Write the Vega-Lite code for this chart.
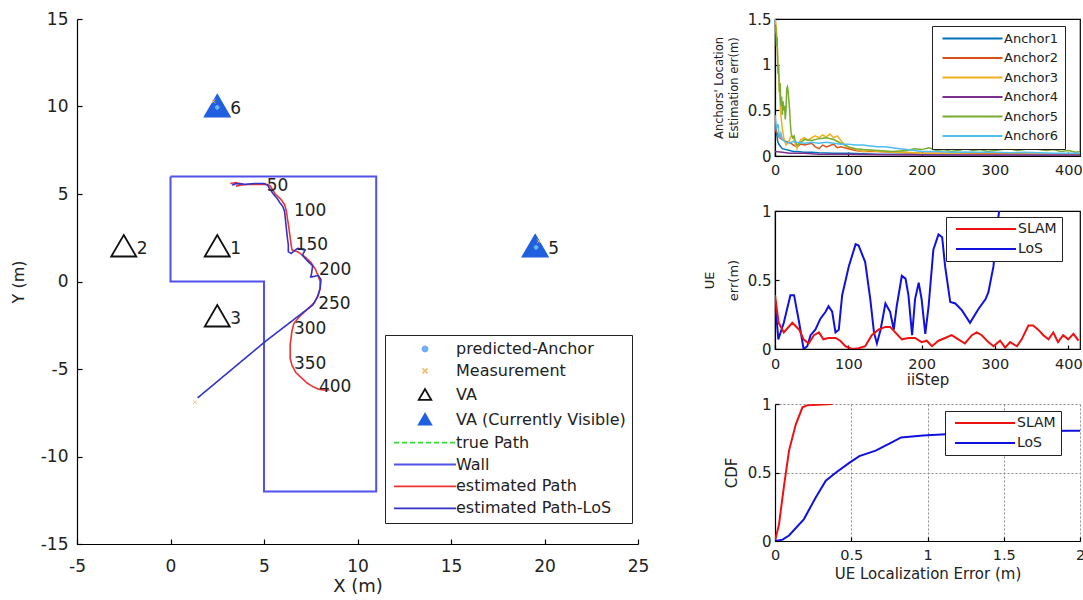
{
  "$schema": "https://vega.github.io/schema/vega-lite/v6.json",
  "background": "white",
  "padding": {"left": 10, "top": 10, "right": 0, "bottom": 0},
  "config": {
    "font": "DejaVu Sans",
    "view": {"stroke": null},
    "axis": {"domainColor": "#000", "tickColor": "#000", "labelColor": "#222", "titleColor": "#222", "grid": false, "titleFontWeight": "normal", "labelFlush": false, "labelOverlap": false, "domainWidth": 1.2, "tickWidth": 1.2},
    "legend": {"strokeColor": "#222", "fillColor": "white", "labelColor": "#222", "symbolStrokeWidth": 1.8, "symbolSize": 100, "orient": "none", "labelLimit": 400}
  },
  "datasets": {
    "wall": [
      {"x": 0, "y": 6, "o": 0, "series": "Wall"}, {"x": 11, "y": 6, "o": 1, "series": "Wall"}, {"x": 11, "y": -12, "o": 2, "series": "Wall"},
      {"x": 5, "y": -12, "o": 3, "series": "Wall"}, {"x": 5, "y": 0, "o": 4, "series": "Wall"}, {"x": 0, "y": 0, "o": 5, "series": "Wall"}, {"x": 0, "y": 6, "o": 6, "series": "Wall"}
    ],
    "estPath": [
      {"o": 0, "x": 3.2, "y": 5.6, "series": "estimated Path"}, {"o": 1, "x": 3.5, "y": 5.65, "series": "estimated Path"}, {"o": 2, "x": 3.9, "y": 5.55, "series": "estimated Path"}, {"o": 3, "x": 3.5, "y": 5.45, "series": "estimated Path"}, {"o": 4, "x": 3.6, "y": 5.5, "series": "estimated Path"},
      {"o": 5, "x": 4.2, "y": 5.55, "series": "estimated Path"}, {"o": 6, "x": 4.7, "y": 5.55, "series": "estimated Path"}, {"o": 7, "x": 5.1, "y": 5.55, "series": "estimated Path"}, {"o": 8, "x": 5.3, "y": 5.5, "series": "estimated Path"}, {"o": 9, "x": 5.4, "y": 5.35, "series": "estimated Path"},
      {"o": 10, "x": 5.6, "y": 5.0, "series": "estimated Path"}, {"o": 11, "x": 5.9, "y": 4.7, "series": "estimated Path"}, {"o": 12, "x": 6.1, "y": 4.4, "series": "estimated Path"}, {"o": 13, "x": 6.2, "y": 4.0, "series": "estimated Path"}, {"o": 14, "x": 6.25, "y": 3.6, "series": "estimated Path"},
      {"o": 15, "x": 6.3, "y": 3.3, "series": "estimated Path"}, {"o": 16, "x": 6.35, "y": 2.9, "series": "estimated Path"}, {"o": 17, "x": 6.4, "y": 2.5, "series": "estimated Path"}, {"o": 18, "x": 6.45, "y": 2.1, "series": "estimated Path"}, {"o": 19, "x": 6.5, "y": 1.8, "series": "estimated Path"},
      {"o": 20, "x": 6.8, "y": 1.7, "series": "estimated Path"}, {"o": 21, "x": 7.2, "y": 1.4, "series": "estimated Path"}, {"o": 22, "x": 7.5, "y": 1.1, "series": "estimated Path"}, {"o": 23, "x": 7.75, "y": 0.7, "series": "estimated Path"}, {"o": 24, "x": 7.9, "y": 0.3, "series": "estimated Path"},
      {"o": 25, "x": 8.0, "y": 0.0, "series": "estimated Path"}, {"o": 26, "x": 8.0, "y": -0.4, "series": "estimated Path"}, {"o": 27, "x": 7.9, "y": -0.8, "series": "estimated Path"}, {"o": 28, "x": 7.7, "y": -1.2, "series": "estimated Path"}, {"o": 29, "x": 7.3, "y": -1.6, "series": "estimated Path"},
      {"o": 30, "x": 6.9, "y": -2.0, "series": "estimated Path"}, {"o": 31, "x": 6.6, "y": -2.4, "series": "estimated Path"}, {"o": 32, "x": 6.5, "y": -2.8, "series": "estimated Path"}, {"o": 33, "x": 6.45, "y": -3.2, "series": "estimated Path"}, {"o": 34, "x": 6.4, "y": -3.6, "series": "estimated Path"},
      {"o": 35, "x": 6.4, "y": -4.0, "series": "estimated Path"}, {"o": 36, "x": 6.4, "y": -4.4, "series": "estimated Path"}, {"o": 37, "x": 6.5, "y": -4.8, "series": "estimated Path"}, {"o": 38, "x": 6.7, "y": -5.2, "series": "estimated Path"}, {"o": 39, "x": 7.0, "y": -5.5, "series": "estimated Path"},
      {"o": 40, "x": 7.3, "y": -5.8, "series": "estimated Path"}, {"o": 41, "x": 7.6, "y": -6.0, "series": "estimated Path"}, {"o": 42, "x": 7.9, "y": -6.15, "series": "estimated Path"}, {"o": 43, "x": 8.2, "y": -6.2, "series": "estimated Path"}, {"o": 44, "x": 8.5, "y": -6.2, "series": "estimated Path"}
    ],
    "losPath": [
      {"o": 0, "x": 3.3, "y": 5.5, "series": "estimated Path-LoS"}, {"o": 1, "x": 3.5, "y": 5.6, "series": "estimated Path-LoS"}, {"o": 2, "x": 4.0, "y": 5.55, "series": "estimated Path-LoS"}, {"o": 3, "x": 4.5, "y": 5.6, "series": "estimated Path-LoS"}, {"o": 4, "x": 5.0, "y": 5.6, "series": "estimated Path-LoS"},
      {"o": 5, "x": 5.2, "y": 5.5, "series": "estimated Path-LoS"}, {"o": 6, "x": 5.3, "y": 5.3, "series": "estimated Path-LoS"}, {"o": 7, "x": 5.5, "y": 5.0, "series": "estimated Path-LoS"}, {"o": 8, "x": 5.7, "y": 4.75, "series": "estimated Path-LoS"}, {"o": 9, "x": 5.85, "y": 4.5, "series": "estimated Path-LoS"},
      {"o": 10, "x": 6.0, "y": 4.3, "series": "estimated Path-LoS"}, {"o": 11, "x": 6.1, "y": 4.0, "series": "estimated Path-LoS"}, {"o": 12, "x": 6.15, "y": 3.5, "series": "estimated Path-LoS"}, {"o": 13, "x": 6.2, "y": 3.0, "series": "estimated Path-LoS"}, {"o": 14, "x": 6.25, "y": 2.5, "series": "estimated Path-LoS"},
      {"o": 15, "x": 6.3, "y": 2.1, "series": "estimated Path-LoS"}, {"o": 16, "x": 6.3, "y": 1.7, "series": "estimated Path-LoS"}, {"o": 17, "x": 6.45, "y": 1.6, "series": "estimated Path-LoS"}, {"o": 18, "x": 6.8, "y": 1.9, "series": "estimated Path-LoS"}, {"o": 19, "x": 7.2, "y": 1.8, "series": "estimated Path-LoS"},
      {"o": 20, "x": 7.05, "y": 1.5, "series": "estimated Path-LoS"}, {"o": 21, "x": 7.3, "y": 1.2, "series": "estimated Path-LoS"}, {"o": 22, "x": 7.6, "y": 0.9, "series": "estimated Path-LoS"}, {"o": 23, "x": 7.55, "y": 0.5, "series": "estimated Path-LoS"}, {"o": 24, "x": 7.5, "y": 0.25, "series": "estimated Path-LoS"},
      {"o": 25, "x": 7.9, "y": 0.35, "series": "estimated Path-LoS"}, {"o": 26, "x": 8.05, "y": 0.1, "series": "estimated Path-LoS"}, {"o": 27, "x": 8.0, "y": -0.4, "series": "estimated Path-LoS"}, {"o": 28, "x": 7.85, "y": -0.9, "series": "estimated Path-LoS"}, {"o": 29, "x": 7.6, "y": -1.35, "series": "estimated Path-LoS"},
      {"o": 30, "x": 5.1, "y": -3.4, "series": "estimated Path-LoS"}, {"o": 31, "x": 1.45, "y": -6.65, "series": "estimated Path-LoS"}
    ],
    "va": [
      {"x": 2.5, "y": 2, "id": "1", "series": "VA"},
      {"x": -2.5, "y": 2, "id": "2", "series": "VA"},
      {"x": 2.5, "y": -2, "id": "3", "series": "VA"},
      {"x": 19.5, "y": 2, "id": "5", "series": "VA (Currently Visible)"},
      {"x": 2.5, "y": 10, "id": "6", "series": "VA (Currently Visible)"}
    ],
    "pts": [
      {"x": 2.5, "y": 9.95, "series": "predicted-Anchor"},
      {"x": 19.55, "y": 1.95, "series": "predicted-Anchor"},
      {"x": 19.7, "y": 2.3, "series": "Measurement"},
      {"x": 2.3, "y": 10.3, "series": "Measurement"},
      {"x": 1.3, "y": -6.9, "series": "Measurement"}
    ],
    "steps": [
      {"x": 5.15, "y": 5.46, "t": "50"}, {"x": 6.6, "y": 4.04, "t": "100"}, {"x": 6.69, "y": 2.1, "t": "150"}, {"x": 7.94, "y": 0.68, "t": "200"},
      {"x": 7.9, "y": -1.3, "t": "250"}, {"x": 6.6, "y": -2.7, "t": "300"}, {"x": 6.6, "y": -4.7, "t": "350"}, {"x": 7.94, "y": -6.05, "t": "400"}
    ],
    "anchors": [
      {"a": "Anchor1", "s": 0, "e": 0.35}, {"a": "Anchor1", "s": 2, "e": 0.25}, {"a": "Anchor1", "s": 4, "e": 0.15}, {"a": "Anchor1", "s": 6, "e": 0.12}, {"a": "Anchor1", "s": 8, "e": 0.1},
      {"a": "Anchor1", "s": 10, "e": 0.08}, {"a": "Anchor1", "s": 15, "e": 0.07}, {"a": "Anchor1", "s": 20, "e": 0.06}, {"a": "Anchor1", "s": 25, "e": 0.05}, {"a": "Anchor1", "s": 30, "e": 0.05},
      {"a": "Anchor1", "s": 40, "e": 0.04}, {"a": "Anchor1", "s": 50, "e": 0.04}, {"a": "Anchor1", "s": 60, "e": 0.035}, {"a": "Anchor1", "s": 80, "e": 0.03}, {"a": "Anchor1", "s": 100, "e": 0.03},
      {"a": "Anchor1", "s": 120, "e": 0.025}, {"a": "Anchor1", "s": 140, "e": 0.02}, {"a": "Anchor1", "s": 160, "e": 0.02}, {"a": "Anchor1", "s": 200, "e": 0.02}, {"a": "Anchor1", "s": 240, "e": 0.015},
      {"a": "Anchor1", "s": 280, "e": 0.015}, {"a": "Anchor1", "s": 320, "e": 0.015}, {"a": "Anchor1", "s": 360, "e": 0.012}, {"a": "Anchor1", "s": 400, "e": 0.012}, {"a": "Anchor1", "s": 416, "e": 0.01},

      {"a": "Anchor2", "s": 0, "e": 0.3}, {"a": "Anchor2", "s": 3, "e": 0.25}, {"a": "Anchor2", "s": 6, "e": 0.2}, {"a": "Anchor2", "s": 10, "e": 0.18}, {"a": "Anchor2", "s": 15, "e": 0.16},
      {"a": "Anchor2", "s": 20, "e": 0.15}, {"a": "Anchor2", "s": 25, "e": 0.12}, {"a": "Anchor2", "s": 30, "e": 0.1}, {"a": "Anchor2", "s": 35, "e": 0.13}, {"a": "Anchor2", "s": 40, "e": 0.12},
      {"a": "Anchor2", "s": 50, "e": 0.14}, {"a": "Anchor2", "s": 55, "e": 0.1}, {"a": "Anchor2", "s": 60, "e": 0.08}, {"a": "Anchor2", "s": 65, "e": 0.12}, {"a": "Anchor2", "s": 70, "e": 0.1},
      {"a": "Anchor2", "s": 80, "e": 0.13}, {"a": "Anchor2", "s": 85, "e": 0.09}, {"a": "Anchor2", "s": 90, "e": 0.1}, {"a": "Anchor2", "s": 100, "e": 0.08}, {"a": "Anchor2", "s": 110, "e": 0.06},
      {"a": "Anchor2", "s": 120, "e": 0.05}, {"a": "Anchor2", "s": 140, "e": 0.05}, {"a": "Anchor2", "s": 160, "e": 0.04}, {"a": "Anchor2", "s": 180, "e": 0.035}, {"a": "Anchor2", "s": 200, "e": 0.03},
      {"a": "Anchor2", "s": 240, "e": 0.03}, {"a": "Anchor2", "s": 280, "e": 0.025}, {"a": "Anchor2", "s": 320, "e": 0.025}, {"a": "Anchor2", "s": 360, "e": 0.02}, {"a": "Anchor2", "s": 400, "e": 0.02}, {"a": "Anchor2", "s": 416, "e": 0.02},

      {"a": "Anchor3", "s": 0, "e": 1.5}, {"a": "Anchor3", "s": 2, "e": 1.4}, {"a": "Anchor3", "s": 4, "e": 1.0}, {"a": "Anchor3", "s": 6, "e": 0.7}, {"a": "Anchor3", "s": 8, "e": 0.45},
      {"a": "Anchor3", "s": 10, "e": 0.3}, {"a": "Anchor3", "s": 12, "e": 0.2}, {"a": "Anchor3", "s": 15, "e": 0.12}, {"a": "Anchor3", "s": 18, "e": 0.15}, {"a": "Anchor3", "s": 20, "e": 0.18},
      {"a": "Anchor3", "s": 22, "e": 0.22}, {"a": "Anchor3", "s": 25, "e": 0.2}, {"a": "Anchor3", "s": 30, "e": 0.08}, {"a": "Anchor3", "s": 35, "e": 0.18}, {"a": "Anchor3", "s": 40, "e": 0.2},
      {"a": "Anchor3", "s": 45, "e": 0.17}, {"a": "Anchor3", "s": 50, "e": 0.2}, {"a": "Anchor3", "s": 55, "e": 0.22}, {"a": "Anchor3", "s": 60, "e": 0.2}, {"a": "Anchor3", "s": 65, "e": 0.23},
      {"a": "Anchor3", "s": 70, "e": 0.21}, {"a": "Anchor3", "s": 75, "e": 0.24}, {"a": "Anchor3", "s": 80, "e": 0.2}, {"a": "Anchor3", "s": 85, "e": 0.22}, {"a": "Anchor3", "s": 90, "e": 0.17},
      {"a": "Anchor3", "s": 95, "e": 0.12}, {"a": "Anchor3", "s": 100, "e": 0.1}, {"a": "Anchor3", "s": 110, "e": 0.07}, {"a": "Anchor3", "s": 120, "e": 0.05}, {"a": "Anchor3", "s": 130, "e": 0.06},
      {"a": "Anchor3", "s": 140, "e": 0.05}, {"a": "Anchor3", "s": 150, "e": 0.05}, {"a": "Anchor3", "s": 160, "e": 0.04}, {"a": "Anchor3", "s": 170, "e": 0.045}, {"a": "Anchor3", "s": 180, "e": 0.04},
      {"a": "Anchor3", "s": 200, "e": 0.03}, {"a": "Anchor3", "s": 240, "e": 0.025}, {"a": "Anchor3", "s": 280, "e": 0.02}, {"a": "Anchor3", "s": 320, "e": 0.02}, {"a": "Anchor3", "s": 360, "e": 0.02},
      {"a": "Anchor3", "s": 400, "e": 0.015}, {"a": "Anchor3", "s": 416, "e": 0.015},

      {"a": "Anchor4", "s": 0, "e": 0.05}, {"a": "Anchor4", "s": 10, "e": 0.04}, {"a": "Anchor4", "s": 20, "e": 0.03}, {"a": "Anchor4", "s": 40, "e": 0.03}, {"a": "Anchor4", "s": 60, "e": 0.02},
      {"a": "Anchor4", "s": 80, "e": 0.02}, {"a": "Anchor4", "s": 100, "e": 0.02}, {"a": "Anchor4", "s": 150, "e": 0.015}, {"a": "Anchor4", "s": 200, "e": 0.01}, {"a": "Anchor4", "s": 250, "e": 0.01},
      {"a": "Anchor4", "s": 300, "e": 0.01}, {"a": "Anchor4", "s": 350, "e": 0.01}, {"a": "Anchor4", "s": 416, "e": 0.01},

      {"a": "Anchor5", "s": 0, "e": 1.35}, {"a": "Anchor5", "s": 1, "e": 1.42}, {"a": "Anchor5", "s": 2, "e": 1.2}, {"a": "Anchor5", "s": 3, "e": 1.3}, {"a": "Anchor5", "s": 4, "e": 0.9},
      {"a": "Anchor5", "s": 5, "e": 1.0}, {"a": "Anchor5", "s": 6, "e": 0.7}, {"a": "Anchor5", "s": 7, "e": 0.8}, {"a": "Anchor5", "s": 8, "e": 0.55}, {"a": "Anchor5", "s": 9, "e": 0.65},
      {"a": "Anchor5", "s": 10, "e": 0.45}, {"a": "Anchor5", "s": 11, "e": 0.6}, {"a": "Anchor5", "s": 12, "e": 0.5}, {"a": "Anchor5", "s": 13, "e": 0.55}, {"a": "Anchor5", "s": 14, "e": 0.4},
      {"a": "Anchor5", "s": 15, "e": 0.5}, {"a": "Anchor5", "s": 16, "e": 0.74}, {"a": "Anchor5", "s": 17, "e": 0.76}, {"a": "Anchor5", "s": 18, "e": 0.7}, {"a": "Anchor5", "s": 19, "e": 0.6},
      {"a": "Anchor5", "s": 20, "e": 0.5}, {"a": "Anchor5", "s": 21, "e": 0.35}, {"a": "Anchor5", "s": 22, "e": 0.25}, {"a": "Anchor5", "s": 24, "e": 0.2}, {"a": "Anchor5", "s": 26, "e": 0.22},
      {"a": "Anchor5", "s": 28, "e": 0.15}, {"a": "Anchor5", "s": 30, "e": 0.12}, {"a": "Anchor5", "s": 35, "e": 0.15}, {"a": "Anchor5", "s": 40, "e": 0.18}, {"a": "Anchor5", "s": 50, "e": 0.17},
      {"a": "Anchor5", "s": 60, "e": 0.19}, {"a": "Anchor5", "s": 70, "e": 0.2}, {"a": "Anchor5", "s": 80, "e": 0.18}, {"a": "Anchor5", "s": 90, "e": 0.14}, {"a": "Anchor5", "s": 100, "e": 0.1},
      {"a": "Anchor5", "s": 110, "e": 0.08}, {"a": "Anchor5", "s": 120, "e": 0.07}, {"a": "Anchor5", "s": 140, "e": 0.06}, {"a": "Anchor5", "s": 160, "e": 0.05}, {"a": "Anchor5", "s": 180, "e": 0.06},
      {"a": "Anchor5", "s": 190, "e": 0.08}, {"a": "Anchor5", "s": 200, "e": 0.07}, {"a": "Anchor5", "s": 210, "e": 0.09}, {"a": "Anchor5", "s": 220, "e": 0.06}, {"a": "Anchor5", "s": 230, "e": 0.07},
      {"a": "Anchor5", "s": 240, "e": 0.05}, {"a": "Anchor5", "s": 250, "e": 0.06}, {"a": "Anchor5", "s": 260, "e": 0.08}, {"a": "Anchor5", "s": 270, "e": 0.06}, {"a": "Anchor5", "s": 280, "e": 0.07},
      {"a": "Anchor5", "s": 290, "e": 0.05}, {"a": "Anchor5", "s": 300, "e": 0.06}, {"a": "Anchor5", "s": 310, "e": 0.07}, {"a": "Anchor5", "s": 320, "e": 0.08}, {"a": "Anchor5", "s": 330, "e": 0.06},
      {"a": "Anchor5", "s": 340, "e": 0.07}, {"a": "Anchor5", "s": 350, "e": 0.08}, {"a": "Anchor5", "s": 360, "e": 0.07}, {"a": "Anchor5", "s": 370, "e": 0.06}, {"a": "Anchor5", "s": 380, "e": 0.07},
      {"a": "Anchor5", "s": 390, "e": 0.05}, {"a": "Anchor5", "s": 400, "e": 0.06}, {"a": "Anchor5", "s": 410, "e": 0.04}, {"a": "Anchor5", "s": 416, "e": 0.05},

      {"a": "Anchor6", "s": 0, "e": 0.45}, {"a": "Anchor6", "s": 2, "e": 0.3}, {"a": "Anchor6", "s": 4, "e": 0.35}, {"a": "Anchor6", "s": 6, "e": 0.2}, {"a": "Anchor6", "s": 8, "e": 0.25},
      {"a": "Anchor6", "s": 10, "e": 0.18}, {"a": "Anchor6", "s": 15, "e": 0.15}, {"a": "Anchor6", "s": 20, "e": 0.14}, {"a": "Anchor6", "s": 25, "e": 0.16}, {"a": "Anchor6", "s": 30, "e": 0.15},
      {"a": "Anchor6", "s": 40, "e": 0.14}, {"a": "Anchor6", "s": 50, "e": 0.15}, {"a": "Anchor6", "s": 60, "e": 0.14}, {"a": "Anchor6", "s": 70, "e": 0.15}, {"a": "Anchor6", "s": 80, "e": 0.14},
      {"a": "Anchor6", "s": 90, "e": 0.13}, {"a": "Anchor6", "s": 100, "e": 0.13}, {"a": "Anchor6", "s": 110, "e": 0.12}, {"a": "Anchor6", "s": 120, "e": 0.12}, {"a": "Anchor6", "s": 130, "e": 0.11},
      {"a": "Anchor6", "s": 140, "e": 0.1}, {"a": "Anchor6", "s": 150, "e": 0.1}, {"a": "Anchor6", "s": 160, "e": 0.09}, {"a": "Anchor6", "s": 170, "e": 0.08}, {"a": "Anchor6", "s": 180, "e": 0.07},
      {"a": "Anchor6", "s": 190, "e": 0.06}, {"a": "Anchor6", "s": 200, "e": 0.05}, {"a": "Anchor6", "s": 220, "e": 0.05}, {"a": "Anchor6", "s": 240, "e": 0.04}, {"a": "Anchor6", "s": 260, "e": 0.045},
      {"a": "Anchor6", "s": 280, "e": 0.04}, {"a": "Anchor6", "s": 300, "e": 0.04}, {"a": "Anchor6", "s": 320, "e": 0.035}, {"a": "Anchor6", "s": 340, "e": 0.04}, {"a": "Anchor6", "s": 360, "e": 0.035},
      {"a": "Anchor6", "s": 380, "e": 0.03}, {"a": "Anchor6", "s": 400, "e": 0.03}, {"a": "Anchor6", "s": 416, "e": 0.03}
    ],
    "ue": [
      {"m": "LoS", "s": 0, "e": 0.36}, {"m": "LoS", "s": 4.5, "e": 0.07}, {"m": "LoS", "s": 12, "e": 0.19}, {"m": "LoS", "s": 21, "e": 0.39}, {"m": "LoS", "s": 26, "e": 0.39},
      {"m": "LoS", "s": 33, "e": 0.19}, {"m": "LoS", "s": 39, "e": 0.0}, {"m": "LoS", "s": 44, "e": 0.02}, {"m": "LoS", "s": 48.5, "e": 0.1}, {"m": "LoS", "s": 55, "e": 0.14},
      {"m": "LoS", "s": 62, "e": 0.22}, {"m": "LoS", "s": 69, "e": 0.27}, {"m": "LoS", "s": 73, "e": 0.31}, {"m": "LoS", "s": 78, "e": 0.27}, {"m": "LoS", "s": 82.5, "e": 0.12},
      {"m": "LoS", "s": 87, "e": 0.14}, {"m": "LoS", "s": 91.6, "e": 0.39}, {"m": "LoS", "s": 100.7, "e": 0.6}, {"m": "LoS", "s": 110, "e": 0.76}, {"m": "LoS", "s": 114, "e": 0.75},
      {"m": "LoS", "s": 123, "e": 0.63}, {"m": "LoS", "s": 130, "e": 0.36}, {"m": "LoS", "s": 135, "e": 0.12}, {"m": "LoS", "s": 139, "e": 0.04}, {"m": "LoS", "s": 144, "e": 0.14},
      {"m": "LoS", "s": 150.6, "e": 0.33}, {"m": "LoS", "s": 157, "e": 0.27}, {"m": "LoS", "s": 162, "e": 0.14}, {"m": "LoS", "s": 166, "e": 0.31}, {"m": "LoS", "s": 173, "e": 0.53},
      {"m": "LoS", "s": 178, "e": 0.51}, {"m": "LoS", "s": 182, "e": 0.39}, {"m": "LoS", "s": 187, "e": 0.1}, {"m": "LoS", "s": 191, "e": 0.36}, {"m": "LoS", "s": 196, "e": 0.48},
      {"m": "LoS", "s": 200, "e": 0.36}, {"m": "LoS", "s": 205, "e": 0.11}, {"m": "LoS", "s": 209.5, "e": 0.31}, {"m": "LoS", "s": 216, "e": 0.72}, {"m": "LoS", "s": 223, "e": 0.83},
      {"m": "LoS", "s": 228, "e": 0.81}, {"m": "LoS", "s": 232, "e": 0.6}, {"m": "LoS", "s": 239, "e": 0.34}, {"m": "LoS", "s": 246, "e": 0.33}, {"m": "LoS", "s": 255, "e": 0.28},
      {"m": "LoS", "s": 266, "e": 0.19}, {"m": "LoS", "s": 277.5, "e": 0.29}, {"m": "LoS", "s": 287, "e": 0.36}, {"m": "LoS", "s": 291, "e": 0.41}, {"m": "LoS", "s": 298, "e": 0.6},
      {"m": "LoS", "s": 302.5, "e": 0.87}, {"m": "LoS", "s": 307, "e": 1.05}, {"m": "LoS", "s": 312, "e": 1.4}, {"m": "LoS", "s": 320, "e": 1.9}, {"m": "LoS", "s": 330, "e": 2.3},
      {"m": "LoS", "s": 345, "e": 2.8}, {"m": "LoS", "s": 360, "e": 3.2}, {"m": "LoS", "s": 380, "e": 3.5}, {"m": "LoS", "s": 400, "e": 3.8}, {"m": "LoS", "s": 416, "e": 4.0},

      {"m": "SLAM", "s": 0, "e": 0.39}, {"m": "SLAM", "s": 5, "e": 0.19}, {"m": "SLAM", "s": 12, "e": 0.12}, {"m": "SLAM", "s": 23.6, "e": 0.19}, {"m": "SLAM", "s": 33, "e": 0.14},
      {"m": "SLAM", "s": 39, "e": 0.07}, {"m": "SLAM", "s": 46, "e": 0.04}, {"m": "SLAM", "s": 53, "e": 0.1}, {"m": "SLAM", "s": 60, "e": 0.12}, {"m": "SLAM", "s": 66, "e": 0.07},
      {"m": "SLAM", "s": 73, "e": 0.08}, {"m": "SLAM", "s": 82.5, "e": 0.08}, {"m": "SLAM", "s": 89, "e": 0.06}, {"m": "SLAM", "s": 96, "e": 0.02}, {"m": "SLAM", "s": 105, "e": 0.0},
      {"m": "SLAM", "s": 114, "e": 0.005}, {"m": "SLAM", "s": 123, "e": 0.02}, {"m": "SLAM", "s": 132, "e": 0.1}, {"m": "SLAM", "s": 141, "e": 0.14}, {"m": "SLAM", "s": 150.6, "e": 0.16},
      {"m": "SLAM", "s": 157, "e": 0.16}, {"m": "SLAM", "s": 164, "e": 0.12}, {"m": "SLAM", "s": 173, "e": 0.07}, {"m": "SLAM", "s": 182, "e": 0.08}, {"m": "SLAM", "s": 191, "e": 0.08},
      {"m": "SLAM", "s": 200, "e": 0.05}, {"m": "SLAM", "s": 207, "e": 0.06}, {"m": "SLAM", "s": 214, "e": 0.02}, {"m": "SLAM", "s": 223, "e": 0.06}, {"m": "SLAM", "s": 232, "e": 0.08},
      {"m": "SLAM", "s": 241, "e": 0.1}, {"m": "SLAM", "s": 250, "e": 0.07}, {"m": "SLAM", "s": 259, "e": 0.04}, {"m": "SLAM", "s": 268.5, "e": 0.1}, {"m": "SLAM", "s": 275, "e": 0.12},
      {"m": "SLAM", "s": 282, "e": 0.1}, {"m": "SLAM", "s": 291, "e": 0.05}, {"m": "SLAM", "s": 298, "e": 0.02}, {"m": "SLAM", "s": 307, "e": 0.06}, {"m": "SLAM", "s": 314, "e": 0.01},
      {"m": "SLAM", "s": 320.6, "e": 0.05}, {"m": "SLAM", "s": 330, "e": 0.02}, {"m": "SLAM", "s": 336.5, "e": 0.07}, {"m": "SLAM", "s": 345.6, "e": 0.17}, {"m": "SLAM", "s": 352, "e": 0.17},
      {"m": "SLAM", "s": 359, "e": 0.14}, {"m": "SLAM", "s": 366, "e": 0.1}, {"m": "SLAM", "s": 373, "e": 0.07}, {"m": "SLAM", "s": 379.6, "e": 0.12}, {"m": "SLAM", "s": 386, "e": 0.05},
      {"m": "SLAM", "s": 393, "e": 0.1}, {"m": "SLAM", "s": 400, "e": 0.07}, {"m": "SLAM", "s": 407, "e": 0.11}, {"m": "SLAM", "s": 414, "e": 0.06}
    ],
    "cdf": [
      {"m": "SLAM", "v": 0, "p": 0}, {"m": "SLAM", "v": 0.026, "p": 0.12}, {"m": "SLAM", "v": 0.06, "p": 0.41}, {"m": "SLAM", "v": 0.092, "p": 0.66},
      {"m": "SLAM", "v": 0.136, "p": 0.85}, {"m": "SLAM", "v": 0.18, "p": 0.976}, {"m": "SLAM", "v": 0.21, "p": 0.99}, {"m": "SLAM", "v": 0.377, "p": 1.0},
      {"m": "LoS", "v": 0, "p": 0}, {"m": "LoS", "v": 0.05, "p": 0.01}, {"m": "LoS", "v": 0.092, "p": 0.04}, {"m": "LoS", "v": 0.19, "p": 0.16},
      {"m": "LoS", "v": 0.268, "p": 0.32}, {"m": "LoS", "v": 0.333, "p": 0.44}, {"m": "LoS", "v": 0.4, "p": 0.5}, {"m": "LoS", "v": 0.487, "p": 0.57},
      {"m": "LoS", "v": 0.553, "p": 0.62}, {"m": "LoS", "v": 0.66, "p": 0.66}, {"m": "LoS", "v": 0.75, "p": 0.71}, {"m": "LoS", "v": 0.827, "p": 0.756},
      {"m": "LoS", "v": 0.97, "p": 0.77}, {"m": "LoS", "v": 1.12, "p": 0.78}, {"m": "LoS", "v": 1.5, "p": 0.8}, {"m": "LoS", "v": 1.93, "p": 0.805}, {"m": "LoS", "v": 2.0, "p": 0.805}
    ]
  },
  "hconcat": [
    {
      "width": 561,
      "height": 525,
      "layer": [
        {
          "data": {"name": "wall"},
          "mark": {"type": "line", "strokeWidth": 2},
          "encoding": {
            "x": {"field": "x", "type": "quantitative", "scale": {"domain": [-5, 25], "nice": false, "zero": false},
                  "axis": {"values": [-5, 0, 5, 10, 15, 20, 25], "title": "X (m)", "labelFontSize": 17, "titleFontSize": 18, "tickSize": -5, "labelPadding": 19, "titlePadding": 3, "labelExpr": "'' + datum.value"}},
            "y": {"field": "y", "type": "quantitative", "scale": {"domain": [-15, 15], "nice": false, "zero": false},
                  "axis": {"values": [-15, -10, -5, 0, 5, 10, 15], "title": "Y (m)", "labelFontSize": 17, "titleFontSize": 16, "tickSize": -5, "labelPadding": 14, "titlePadding": 14, "labelExpr": "'' + datum.value"}},
            "order": {"field": "o", "type": "quantitative"},
            "stroke": {
              "field": "series", "type": "nominal",
              "scale": {
                "domain": ["predicted-Anchor", "Measurement", "VA", "VA (Currently Visible)", "true Path", "Wall", "estimated Path", "estimated Path-LoS"],
                "range": ["#7aa6f5", "#f0c070", "#111111", "#1f5fe0", "#33dd33", "#5050ea", "#ee3333", "#3333cc"]
              },
              "legend": {"title": null, "orient": "none", "legendX": 308, "legendY": 316, "padding": 6, "labelFontSize": 16, "rowPadding": 5.9, "symbolOffset": 26, "labelOffset": 23}
            },
            "strokeDash": {
              "field": "series", "type": "nominal",
              "scale": {
                "domain": ["predicted-Anchor", "Measurement", "VA", "VA (Currently Visible)", "true Path", "Wall", "estimated Path", "estimated Path-LoS"],
                "range": [[1, 0], [1, 0], [1, 0], [1, 0], [5, 3], [1, 0], [1, 0], [1, 0]]
              },
              "legend": {"title": null, "orient": "none", "legendX": 308, "legendY": 316, "padding": 6, "labelFontSize": 16, "rowPadding": 5.9, "symbolOffset": 26, "labelOffset": 23}
            }
          }
        },
        {
          "data": {"name": "estPath"},
          "mark": {"type": "line", "strokeWidth": 1.6},
          "encoding": {
            "x": {"field": "x", "type": "quantitative"},
            "y": {"field": "y", "type": "quantitative"},
            "order": {"field": "o", "type": "quantitative"},
            "stroke": {"field": "series", "type": "nominal"},
            "strokeDash": {"field": "series", "type": "nominal"}
          }
        },
        {
          "data": {"name": "losPath"},
          "mark": {"type": "line", "strokeWidth": 1.6},
          "encoding": {
            "x": {"field": "x", "type": "quantitative"},
            "y": {"field": "y", "type": "quantitative"},
            "order": {"field": "o", "type": "quantitative"},
            "stroke": {"field": "series", "type": "nominal"},
            "strokeDash": {"field": "series", "type": "nominal"}
          }
        },
        {
          "data": {"name": "va"},
          "mark": {"type": "point", "size": 400, "strokeWidth": 1.8, "opacity": 1},
          "encoding": {
            "x": {"field": "x", "type": "quantitative"},
            "y": {"field": "y", "type": "quantitative"},
            "stroke": {"field": "series", "type": "nominal"},
            "shape": {
              "field": "series", "type": "nominal",
              "scale": {
                "domain": ["predicted-Anchor", "Measurement", "VA", "VA (Currently Visible)", "true Path", "Wall", "estimated Path", "estimated Path-LoS"],
                "range": ["M-0.5,0A0.5,0.5,0,1,1,0.5,0A0.5,0.5,0,1,1,-0.5,0Z", "M-0.5,-0.5L0.5,0.5M-0.5,0.5L0.5,-0.5", "M0,-1.15L1.25,1L-1.25,1Z", "M0,-1.15L1.25,1L-1.25,1Z", "M-6.2,0L6.2,0", "M-6.2,0L6.2,0", "M-6.2,0L6.2,0", "M-6.2,0L6.2,0"]
              },
              "legend": {"title": null, "orient": "none", "legendX": 308, "legendY": 316, "padding": 6, "labelFontSize": 16, "rowPadding": 5.9, "symbolOffset": 26, "labelOffset": 23}
            },
            "fill": {
              "field": "series", "type": "nominal",
              "scale": {
                "domain": ["predicted-Anchor", "Measurement", "VA", "VA (Currently Visible)", "true Path", "Wall", "estimated Path", "estimated Path-LoS"],
                "range": ["#56c3ea", "transparent", "transparent", "#1f5fe0", "transparent", "transparent", "transparent", "transparent"]
              },
              "legend": {"title": null, "orient": "none", "legendX": 308, "legendY": 316, "padding": 6, "labelFontSize": 16, "rowPadding": 5.9, "symbolOffset": 26, "labelOffset": 23}
            }
          }
        },
        {
          "data": {"name": "pts"},
          "mark": {"type": "point", "size": 60, "strokeWidth": 1, "opacity": 1},
          "encoding": {
            "x": {"field": "x", "type": "quantitative"},
            "y": {"field": "y", "type": "quantitative"},
            "stroke": {"field": "series", "type": "nominal"},
            "shape": {"field": "series", "type": "nominal"},
            "fill": {"field": "series", "type": "nominal"}
          }
        },
        {
          "data": {"name": "va"},
          "mark": {"type": "text", "align": "left", "baseline": "middle", "dx": 13, "dy": 2, "fontSize": 17, "color": "#222"},
          "encoding": {
            "x": {"field": "x", "type": "quantitative"},
            "y": {"field": "y", "type": "quantitative"},
            "text": {"field": "id"}
          }
        },
        {
          "data": {"name": "steps"},
          "mark": {"type": "text", "align": "left", "baseline": "middle", "fontSize": 17, "color": "#222"},
          "encoding": {
            "x": {"field": "x", "type": "quantitative"},
            "y": {"field": "y", "type": "quantitative"},
            "text": {"field": "t"}
          }
        }
      ]
    },
    {
      "vconcat": [
        {
          "width": 305,
          "height": 137,
          "view": {"stroke": "#000", "strokeWidth": 1.2},
          "data": {"name": "anchors"},
          "mark": {"type": "line", "strokeWidth": 1.5, "clip": true},
          "encoding": {
            "x": {"field": "s", "type": "quantitative", "scale": {"domain": [0, 416], "nice": false},
                  "axis": {"values": [0, 100, 200, 300, 400], "format": "d", "title": null, "labelFontSize": 14.5, "tickSize": -4, "labelPadding": 11}},
            "y": {"field": "e", "type": "quantitative", "scale": {"domain": [0, 1.5], "nice": false},
                  "axis": {"values": [0, 0.5, 1, 1.5], "format": ".2~f", "title": ["Anchors' Location", "Estimation err(m)"], "titleFontSize": 11.5, "titleLineHeight": 15, "labelFontSize": 15, "tickSize": -4, "labelPadding": 8, "titlePadding": 8}},
            "color": {
              "field": "a", "type": "nominal",
              "scale": {"domain": ["Anchor1", "Anchor2", "Anchor3", "Anchor4", "Anchor5", "Anchor6"], "range": ["#0072BD", "#D95319", "#EDB120", "#7E2F8E", "#77AC30", "#4DBEEE"]},
              "legend": {
                "title": null, "orient": "none", "legendX": 157, "legendY": 7, "symbolType": "M-6,0L6,0", "symbolSize": 100,
                "symbolOffset": 28, "labelOffset": 25, "symbolStrokeWidth": 2, "labelFontSize": 13, "padding": 6, "rowPadding": 5.5
              }
            }
          }
        },
        {
          "width": 305,
          "height": 138,
          "view": {"stroke": "#000", "strokeWidth": 1.2},
          "data": {"name": "ue"},
          "mark": {"type": "line", "strokeWidth": 2, "clip": true},
          "encoding": {
            "x": {"field": "s", "type": "quantitative", "scale": {"domain": [0, 416], "nice": false},
                  "axis": {"values": [0, 100, 200, 300, 400], "format": "d", "title": "iiStep", "titleFontSize": 15, "titlePadding": 2, "labelFontSize": 14.5, "tickSize": -4, "labelPadding": 12}},
            "y": {"field": "e", "type": "quantitative", "scale": {"domain": [0, 1], "nice": false},
                  "axis": {"values": [0, 0.5, 1], "format": ".2~f", "title": ["UE", "err(m)"], "titleFontSize": 13, "titleLineHeight": 24, "labelFontSize": 15, "tickSize": -4, "labelPadding": 8, "titlePadding": 7}},
            "color": {
              "field": "m", "type": "nominal",
              "scale": {"domain": ["SLAM", "LoS"], "range": ["#ee1111", "#1111dd"]},
              "legend": {
                "title": null, "orient": "none", "legendX": 171, "legendY": 6, "symbolType": "M-6,0L6,0", "symbolSize": 100,
                "symbolOffset": 28, "labelOffset": 25, "symbolStrokeWidth": 2, "labelFontSize": 14, "padding": 5, "rowPadding": 6
              }
            }
          }
        },
        {
          "width": 305,
          "height": 137,
          "data": {"name": "cdf"},
          "mark": {"type": "line", "strokeWidth": 2, "clip": true},
          "encoding": {
            "x": {"field": "v", "type": "quantitative", "scale": {"domain": [0, 2], "nice": false},
                  "axis": {"values": [0, 0.5, 1, 1.5, 2], "format": ".2~f", "title": "UE Localization Error (m)", "titleFontSize": 15, "titlePadding": 5, "labelFontSize": 14.5, "tickSize": -4, "labelPadding": 11,
                           "grid": true, "gridDash": [2, 2], "gridColor": "#888", "gridWidth": 1}},
            "y": {"field": "p", "type": "quantitative", "scale": {"domain": [0, 1], "nice": false},
                  "axis": {"values": [0, 0.5, 1], "format": ".2~f", "title": "CDF", "titleFontSize": 15, "labelFontSize": 15, "tickSize": -4, "labelPadding": 8, "titlePadding": 8,
                           "grid": true, "gridDash": [2, 2], "gridColor": "#888", "gridWidth": 1}},
            "color": {
              "field": "m", "type": "nominal",
              "scale": {"domain": ["SLAM", "LoS"], "range": ["#ee1111", "#1111dd"]},
              "legend": {
                "title": null, "orient": "none", "legendX": 170, "legendY": 7, "symbolType": "M-6,0L6,0", "symbolSize": 100,
                "symbolOffset": 28, "labelOffset": 25, "symbolStrokeWidth": 2, "labelFontSize": 14, "padding": 5, "rowPadding": 6
              }
            }
          }
        }
      ],
      "spacing": 55,
      "bounds": "flush",
      "resolve": {"scale": {"color": "independent"}, "legend": {"color": "independent"}}
    }
  ],
  "spacing": 137,
  "bounds": "flush",
  "resolve": {"scale": {"stroke": "independent", "color": "independent", "shape": "independent", "fill": "independent", "strokeDash": "independent"}, "legend": {"stroke": "independent", "color": "independent", "shape": "independent", "fill": "independent", "strokeDash": "independent"}}
}
